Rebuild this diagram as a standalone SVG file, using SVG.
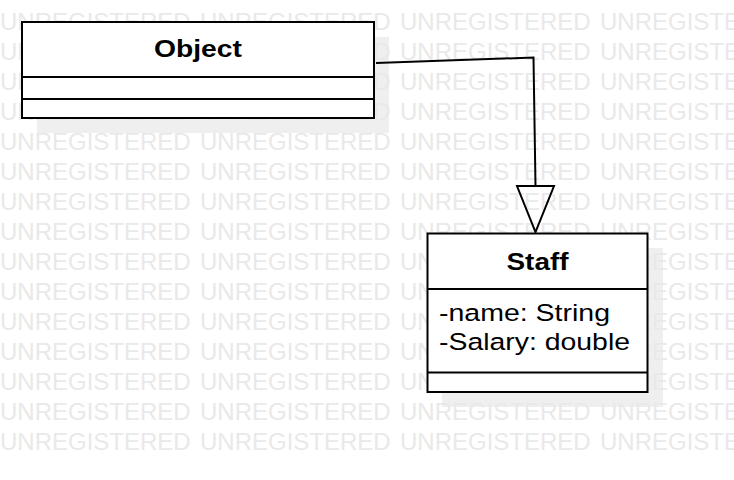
<svg xmlns="http://www.w3.org/2000/svg" width="734" height="480" viewBox="0 0 734 480">
<style>
.wm{font-family:"Liberation Sans",Arial,sans-serif;font-size:24px;fill:#e9e9e9}
.box{fill:#ffffff;stroke:#000000;stroke-width:2}
.sep{stroke:#000000;stroke-width:2}
.shadow{fill:#efefef}
.title{font-family:"Liberation Sans",Arial,sans-serif;font-size:24.5px;font-weight:bold;fill:#000000;text-anchor:middle}
.attr{font-family:"Liberation Sans",Arial,sans-serif;font-size:24.5px;fill:#000000}
.edge{fill:none;stroke:#000000;stroke-width:2}
</style>
<rect x="0" y="0" width="734" height="480" fill="#ffffff"/>
<g id="shadows">
<rect class="shadow" x="37" y="37" width="352" height="96"/>
<rect class="shadow" x="442" y="248" width="221" height="159"/>
</g>
<g id="watermark" class="wm">
<text x="0" y="30">UNREGISTERED</text><text x="200" y="30">UNREGISTERED</text><text x="400" y="30">UNREGISTERED</text><text x="600" y="30">UNREGISTERED</text>
<text x="0" y="60">UNREGISTERED</text><text x="200" y="60">UNREGISTERED</text><text x="400" y="60">UNREGISTERED</text><text x="600" y="60">UNREGISTERED</text>
<text x="0" y="90">UNREGISTERED</text><text x="200" y="90">UNREGISTERED</text><text x="400" y="90">UNREGISTERED</text><text x="600" y="90">UNREGISTERED</text>
<text x="0" y="120">UNREGISTERED</text><text x="200" y="120">UNREGISTERED</text><text x="400" y="120">UNREGISTERED</text><text x="600" y="120">UNREGISTERED</text>
<text x="0" y="150">UNREGISTERED</text><text x="200" y="150">UNREGISTERED</text><text x="400" y="150">UNREGISTERED</text><text x="600" y="150">UNREGISTERED</text>
<text x="0" y="180">UNREGISTERED</text><text x="200" y="180">UNREGISTERED</text><text x="400" y="180">UNREGISTERED</text><text x="600" y="180">UNREGISTERED</text>
<text x="0" y="210">UNREGISTERED</text><text x="200" y="210">UNREGISTERED</text><text x="400" y="210">UNREGISTERED</text><text x="600" y="210">UNREGISTERED</text>
<text x="0" y="240">UNREGISTERED</text><text x="200" y="240">UNREGISTERED</text><text x="400" y="240">UNREGISTERED</text><text x="600" y="240">UNREGISTERED</text>
<text x="0" y="270">UNREGISTERED</text><text x="200" y="270">UNREGISTERED</text><text x="400" y="270">UNREGISTERED</text><text x="600" y="270">UNREGISTERED</text>
<text x="0" y="300">UNREGISTERED</text><text x="200" y="300">UNREGISTERED</text><text x="400" y="300">UNREGISTERED</text><text x="600" y="300">UNREGISTERED</text>
<text x="0" y="330">UNREGISTERED</text><text x="200" y="330">UNREGISTERED</text><text x="400" y="330">UNREGISTERED</text><text x="600" y="330">UNREGISTERED</text>
<text x="0" y="360">UNREGISTERED</text><text x="200" y="360">UNREGISTERED</text><text x="400" y="360">UNREGISTERED</text><text x="600" y="360">UNREGISTERED</text>
<text x="0" y="390">UNREGISTERED</text><text x="200" y="390">UNREGISTERED</text><text x="400" y="390">UNREGISTERED</text><text x="600" y="390">UNREGISTERED</text>
<text x="0" y="420">UNREGISTERED</text><text x="200" y="420">UNREGISTERED</text><text x="400" y="420">UNREGISTERED</text><text x="600" y="420">UNREGISTERED</text>
<text x="0" y="450">UNREGISTERED</text><text x="200" y="450">UNREGISTERED</text><text x="400" y="450">UNREGISTERED</text><text x="600" y="450">UNREGISTERED</text>
</g>
<g id="connectors">
<polyline class="edge" points="376,63 533.5,57.5 535.5,186"/>
<polygon class="edge" fill="#ffffff" points="517,186 554,186 535.5,232"/>
</g>
<g id="object">
<rect class="box" x="22" y="22" width="352" height="96"/>
<line class="sep" x1="22" y1="77" x2="374" y2="77"/>
<line class="sep" x1="22" y1="99" x2="374" y2="99"/>
<text class="title" x="198" y="57" textLength="88" lengthAdjust="spacingAndGlyphs">Object</text>
</g>
<g id="staff">
<rect class="box" x="427.5" y="233.5" width="220" height="158.5"/>
<line class="sep" x1="427.5" y1="289" x2="647.5" y2="289"/>
<line class="sep" x1="427.5" y1="372.5" x2="647.5" y2="372.5"/>
<text class="title" x="537.5" y="270" textLength="62" lengthAdjust="spacingAndGlyphs">Staff</text>
<text class="attr" x="439" y="321" textLength="171" lengthAdjust="spacingAndGlyphs">-name: String</text>
<text class="attr" x="439" y="350" textLength="191" lengthAdjust="spacingAndGlyphs">-Salary: double</text>
</g>
</svg>
